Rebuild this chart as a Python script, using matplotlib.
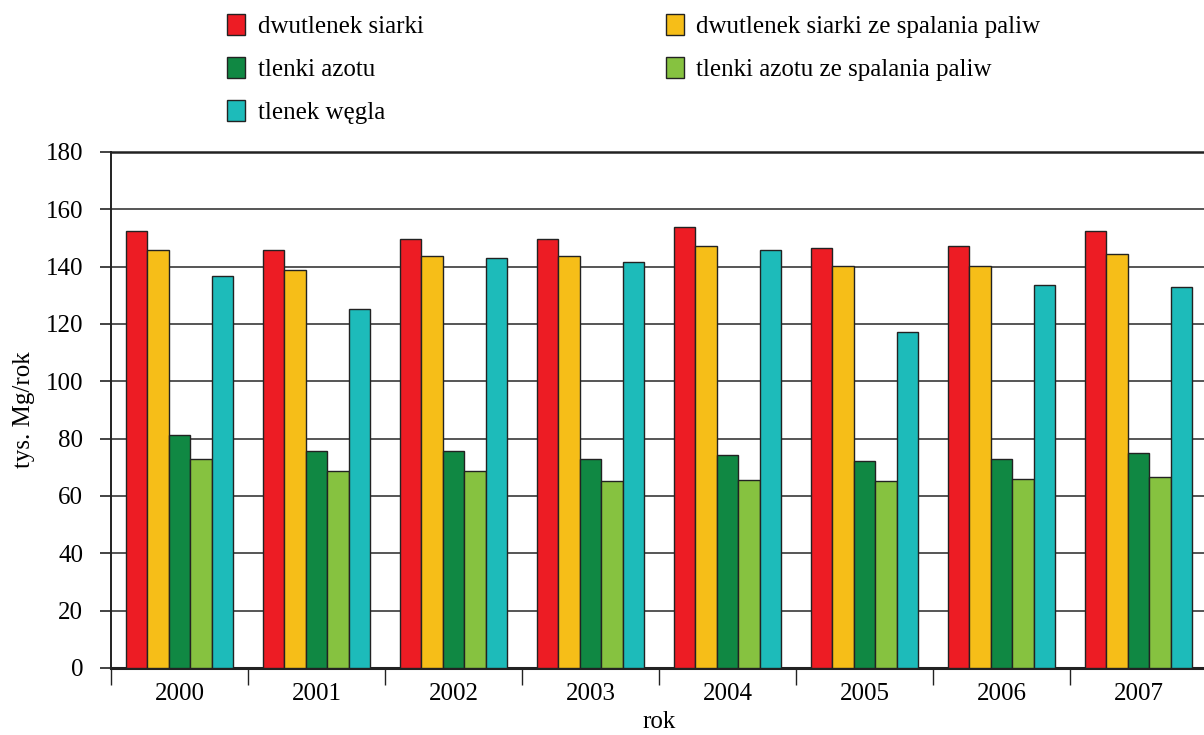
import matplotlib
matplotlib.use("Agg")
import matplotlib.pyplot as plt
import numpy as np

years = ["2000", "2001", "2002", "2003", "2004", "2005", "2006", "2007"]
series_names = [
    "dwutlenek siarki",
    "dwutlenek siarki ze spalania paliw",
    "tlenki azotu",
    "tlenki azotu ze spalania paliw",
    "tlenek węgla",
]
so2 = [152.4, 145.9, 149.5, 149.5, 153.7, 146.6, 147.3, 152.4]
so2_fuel = [145.9, 138.7, 143.7, 143.7, 147.2, 140.1, 140.1, 144.4]
nox = [81.4, 75.7, 75.7, 72.8, 74.4, 72.2, 72.9, 75.1]
nox_fuel = [72.8, 68.6, 68.6, 65.3, 65.7, 65.1, 65.8, 66.6]
co = [136.6, 125.1, 143.0, 141.5, 145.9, 117.1, 133.7, 133.0]
y_ticks = [0, 20, 40, 60, 80, 100, 120, 140, 160, 180]

series = [so2, so2_fuel, nox, nox_fuel, co]
colors = ["#ED1C24", "#F6BE18", "#108843", "#86C240", "#1DBBBA"]

plt.rcParams["font.family"] = ["Liberation Serif", "DejaVu Serif"]
plt.rcParams["font.size"] = 18

W, H = 1204, 735
fig = plt.figure(figsize=(W / 100, H / 100), dpi=100)
ax = fig.add_axes([111 / W, (H - 668) / H, 1096 / W, 516 / H])

x = np.arange(len(years))
bw = 0.156
handles = []
for i, (vals, col, name) in enumerate(zip(series, colors, series_names)):
    b = ax.bar(x + (i - 2) * bw, vals, width=bw, color=col,
               edgecolor="#222222", linewidth=1.0, label=name, zorder=3)
    handles.append(b)

ax.set_xlim(-0.5, len(years) - 0.5)
ax.set_ylim(0, 180)
ax.set_yticks(y_ticks)
ax.yaxis.grid(True, color="#555555", linewidth=1.4, zorder=0)
ax.set_axisbelow(True)

ax.set_xticks(x)
ax.set_xticklabels(years)
ax.set_xticks(np.arange(len(years) + 1) - 0.5, minor=True)
ax.tick_params(axis="x", which="major", length=0, pad=11)
ax.tick_params(axis="x", which="minor", length=12, width=1.0, color="#222222", direction="out")
ax.tick_params(axis="y", length=8, width=1.2, color="#222222", direction="out", pad=12)

for side in ["top", "right"]:
    ax.spines[side].set_visible(False)
ax.spines["left"].set_linewidth(1.4)
ax.spines["left"].set_color("#222222")
ax.spines["bottom"].set_linewidth(2.2)
ax.spines["bottom"].set_color("#222222")
ax.axhline(180, color="#222222", linewidth=1.8, zorder=1, clip_on=False)

ax.set_ylabel("tys. Mg/rok", labelpad=8)
ax.set_xlabel("rok", labelpad=4)

order = [0, 2, 4, 1, 3]
leg = fig.legend([handles[k] for k in order], [series_names[k] for k in order],
                 ncol=2, loc="upper left", bbox_to_anchor=(227 / W, 1 - 14 / H),
                 frameon=False, borderpad=0, borderaxespad=0,
                 handlelength=0.72, handleheight=0.9,
                 handletextpad=0.5, labelspacing=0.76, columnspacing=9.7)

fig.savefig("out.png", dpi=100)
